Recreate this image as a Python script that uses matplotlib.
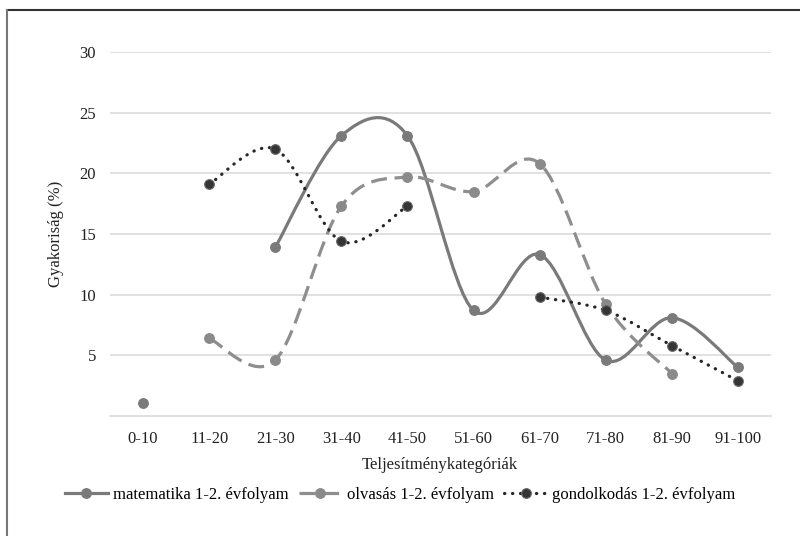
"""Gyakoriság teljesítménykategóriánként (1-2. évfolyam), Excel-style smoothed lines."""
import matplotlib
matplotlib.use("Agg")
import matplotlib.pyplot as plt
from matplotlib.lines import Line2D
from matplotlib.patches import PathPatch
from matplotlib.path import Path

plt.rcParams["font.family"] = ["Liberation Serif", "DejaVu Serif"]

# ─── Data ─────────────────────────────────────────────────────────────────────
categories = ["0-10", "11-20", "21-30", "31-40", "41-50",
              "51-60", "61-70", "71-80", "81-90", "91-100"]
matematika  = [1.1, None, 13.9, 23.1, 23.1, 8.7, 13.3, 4.6, 8.1, 4.0]
olvasas     = [None, 6.4, 4.6, 17.3, 19.7, 18.5, 20.8, 9.2, 3.5, None]
gondolkodas = [None, 19.1, 22.0, 14.4, 17.3, None, 9.8, 8.7, 5.8, 2.9]
yticks = [5, 10, 15, 20, 25, 30]

series = [
    ("matematika 1-2. évfolyam",  matematika,  "#7a7a7a", "-",             "butt",  "#7a7a7a", "#7a7a7a"),
    ("olvasás 1-2. évfolyam",     olvasas,     "#8e8e8e", (0, (5, 2.4)),   "butt",  "#8a8a8a", "#8a8a8a"),
    ("gondolkodás 1-2. évfolyam", gondolkodas, "#262626", (0, (0.1, 2.4)), "round", "#353535", "#6a6a6a"),
]


def runs(vals):
    """Split a series into contiguous (x, y) runs, skipping gaps."""
    out, cur = [], []
    for i, v in enumerate(vals):
        if v is None:
            if cur:
                out.append(cur)
            cur = []
        else:
            cur.append((i, v))
    if cur:
        out.append(cur)
    return out


def smooth_path(pts):
    # Catmull-Rom as cubic Bezier (what Excel's "smoothed line" does)
    verts = [pts[0]]
    codes = [Path.MOVETO]
    n = len(pts)
    for i in range(n - 1):
        p0 = pts[i - 1] if i > 0 else pts[i]
        p1, p2 = pts[i], pts[i + 1]
        p3 = pts[i + 2] if i + 2 < n else pts[i + 1]
        c1 = (p1[0] + (p2[0] - p0[0]) / 6, p1[1] + (p2[1] - p0[1]) / 6)
        c2 = (p2[0] - (p3[0] - p1[0]) / 6, p2[1] - (p3[1] - p1[1]) / 6)
        verts += [c1, c2, p2]
        codes += [Path.CURVE4] * 3
    return Path(verts, codes)


# ─── Figure ───────────────────────────────────────────────────────────────────
fig = plt.figure(figsize=(8, 5.36), dpi=100)
ax = fig.add_axes([110 / 800, 1 - 416 / 536, 661 / 800, 364 / 536])

lw = 2.3
fs = 12
for name, vals, col, ls, cap, mfc, mec in series:
    for run in runs(vals):
        if len(run) > 1:
            patch = PathPatch(smooth_path(run), fill=False, edgecolor=col,
                              linewidth=lw, linestyle=ls, capstyle=cap, zorder=3)
            ax.add_patch(patch)
    xs = [i for i, v in enumerate(vals) if v is not None]
    ys = [v for v in vals if v is not None]
    ax.plot(xs, ys, linestyle="none", marker="o", markersize=7,
            markerfacecolor=mfc, markeredgecolor=mec, markeredgewidth=0.8, zorder=4)

ax.set_xlim(-0.5, len(categories) - 0.5)
ax.set_ylim(0, 30)
ax.set_xticks(range(len(categories)))
ax.set_xticklabels(categories)
ax.set_yticks(yticks)
ax.set_yticklabels([str(t) for t in yticks])
ax.tick_params(length=0, labelsize=fs, colors="#222222")
ax.tick_params(axis="x", pad=11)
ax.tick_params(axis="y", pad=10)
ax.grid(axis="y", color="#d9d9d9", linewidth=1.1)
ax.set_axisbelow(True)
for s in ["top", "right", "left"]:
    ax.spines[s].set_visible(False)
ax.spines["bottom"].set_color("#d9d9d9")
ax.spines["bottom"].set_linewidth(1.1)

fig.text(440 / 800, 1 - 465 / 536, "Teljesítménykategóriák", ha="center", va="center",
         fontsize=fs, color="#222222")
fig.text(56 / 800, 1 - 234 / 536, "Gyakoriság (%)", ha="center", va="center",
         rotation=90, fontsize=fs, color="#222222")

handles = [Line2D([], [], color=col, linewidth=lw, linestyle=ls, dash_capstyle=cap,
                  marker="o", markersize=7, markerfacecolor=mfc, markeredgecolor=mec,
                  markeredgewidth=0.8)
           for name, vals, col, ls, cap, mfc, mec in series]
fig.legend(handles, [s[0] for s in series], loc="center", ncol=3,
           bbox_to_anchor=(0.5, 1 - 495 / 536), frameon=False, fontsize=fs,
           handlelength=2.6, handletextpad=0.3, columnspacing=0.6, markerscale=1.0)

# chart border (only top and left edges are visible in the crop)
fig.add_artist(Line2D([7 / 800, 1], [1 - 10 / 536, 1 - 10 / 536], color="#333333", linewidth=1.5))
fig.add_artist(Line2D([7 / 800, 7 / 800], [0, 1 - 10 / 536], color="#777777", linewidth=1.5))

fig.savefig("out.png", dpi=100)
